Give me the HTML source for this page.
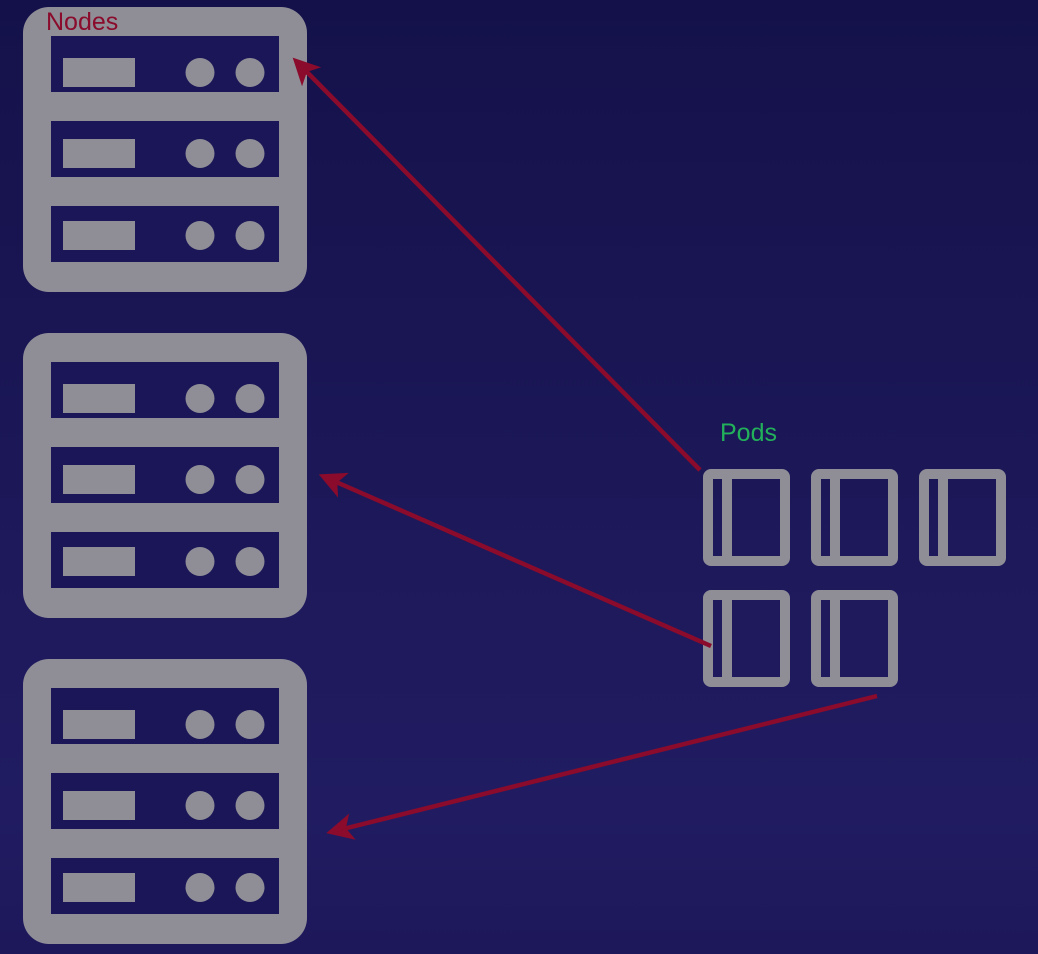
<!DOCTYPE html>
<html><head><meta charset="utf-8"><style>
html,body{margin:0;padding:0;width:1038px;height:954px;overflow:hidden;background:linear-gradient(#14114a,#1c1858 50%,#211c62 85%,#1d185a);}
svg{position:absolute;left:0;top:0}
</style></head><body>
<svg width="1038" height="954" viewBox="0 0 1038 954" xmlns="http://www.w3.org/2000/svg">
<defs>
<g id="srv">
<rect x="23" y="0" width="284" height="285" rx="26" fill="#8f8e96"/>
<rect x="51" y="29" width="228" height="56" fill="#1a1657"/>
<rect x="51" y="114" width="228" height="56" fill="#1a1657"/>
<rect x="51" y="199" width="228" height="56" fill="#1a1657"/>
<g fill="#8f8e96">
<rect x="63" y="51" width="72" height="29"/><circle cx="200" cy="65.5" r="14.5"/><circle cx="250" cy="65.5" r="14.5"/>
<rect x="63" y="132" width="72" height="29"/><circle cx="200" cy="146.5" r="14.5"/><circle cx="250" cy="146.5" r="14.5"/>
<rect x="63" y="214" width="72" height="29"/><circle cx="200" cy="228.5" r="14.5"/><circle cx="250" cy="228.5" r="14.5"/>
</g>
</g>
<g id="pod">
<rect x="5" y="5" width="77" height="87" rx="3" fill="none" stroke="#8f8e96" stroke-width="10"/>
<rect x="19" y="5" width="10" height="87" fill="#8f8e96"/>
</g>
<marker id="ah" markerWidth="6" markerHeight="6" refX="4" refY="3" orient="auto" markerUnits="strokeWidth">
<path d="M0,0 L6,3 L0,6 L1.5,3 Z" fill="#8a0b2c"/>
</marker>
</defs>
<use href="#srv" y="7"/>
<use href="#srv" y="333"/>
<use href="#srv" y="659"/>
<use href="#pod" x="703" y="469"/>
<use href="#pod" x="811" y="469"/>
<use href="#pod" x="919" y="469"/>
<use href="#pod" x="703" y="590"/>
<use href="#pod" x="811" y="590"/>
<g stroke="#8a0b2c" stroke-width="4.5" fill="none" marker-end="url(#ah)">
<line x1="700" y1="470" x2="299" y2="64"/>
<line x1="711" y1="646" x2="327" y2="478"/>
<line x1="877" y1="696" x2="335" y2="831"/>
</g>
<text x="46" y="30" font-family="Liberation Sans, sans-serif" font-size="25" fill="#8a0b2c">Nodes</text>
<text x="720" y="441" font-family="Liberation Sans, sans-serif" font-size="25" fill="#23b05a">Pods</text>
</svg>
</body></html>
